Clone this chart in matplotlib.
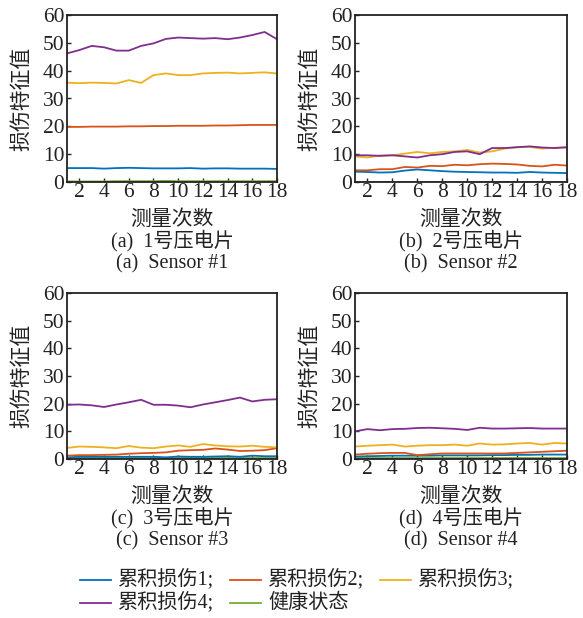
import matplotlib
matplotlib.use("Agg")
import matplotlib.pyplot as plt
from matplotlib.lines import Line2D

x = list(range(1, 19))

# Panel (a) Sensor #1
a_d1 = [5.0, 5.0, 5.0, 4.8, 5.0, 5.1, 5.0, 4.9, 4.9, 4.9, 5.0, 4.8, 4.9, 4.9, 4.8, 4.8, 4.8, 4.7]
a_d2 = [19.8, 19.8, 19.9, 19.9, 19.9, 20.0, 20.0, 20.1, 20.1, 20.2, 20.2, 20.2, 20.3, 20.3, 20.4, 20.5, 20.5, 20.5]
a_d3 = [35.7, 35.5, 35.7, 35.6, 35.4, 36.6, 35.6, 38.4, 39.0, 38.4, 38.4, 39.0, 39.2, 39.3, 39.0, 39.2, 39.4, 39.0]
a_d4 = [46.2, 47.4, 48.9, 48.4, 47.2, 47.2, 48.9, 49.8, 51.4, 51.9, 51.7, 51.5, 51.7, 51.3, 51.9, 52.8, 53.9, 51.3]
a_h = [0.2, 0.2, 0.2, 0.2, 0.3, 0.3, 0.3, 0.3, 0.4, 0.3, 0.3, 0.3, 0.3, 0.3, 0.3, 0.3, 0.3, 0.3]

# Panel (b) Sensor #2
b_d1 = [3.7, 3.6, 3.4, 3.5, 4.1, 4.5, 4.2, 3.9, 3.7, 3.6, 3.5, 3.4, 3.4, 3.3, 3.6, 3.4, 3.3, 3.2]
b_d2 = [4.2, 4.2, 4.6, 4.6, 5.4, 5.2, 5.8, 5.7, 6.2, 6.0, 6.4, 6.6, 6.5, 6.3, 5.8, 5.6, 6.2, 5.9]
b_d3 = [9.2, 8.8, 9.5, 9.6, 10.2, 10.8, 10.3, 10.8, 11.0, 11.5, 10.6, 11.0, 12.0, 12.5, 12.6, 12.0, 12.3, 12.4]
b_d4 = [9.6, 9.6, 9.4, 9.6, 9.2, 8.8, 9.6, 10.0, 10.8, 11.0, 10.0, 12.2, 12.2, 12.5, 12.8, 12.4, 12.2, 12.5]
b_h = [0.1, 0.1, 0.1, 0.1, 0.1, 0.1, 0.1, 0.1, 0.1, 0.1, 0.1, 0.1, 0.1, 0.1, 0.1, 0.1, 0.1, 0.1]

# Panel (c) Sensor #3
c_d1 = [0.6, 0.8, 0.8, 0.8, 0.8, 0.8, 0.8, 0.8, 0.6, 0.9, 0.8, 0.8, 0.9, 1.0, 0.8, 1.2, 1.0, 1.0]
c_d2 = [1.2, 1.4, 1.4, 1.5, 1.6, 1.9, 2.1, 2.2, 2.4, 3.0, 3.2, 3.3, 3.8, 3.4, 2.9, 3.0, 3.2, 3.9]
c_d3 = [4.0, 4.5, 4.4, 4.2, 3.9, 4.7, 4.1, 3.9, 4.5, 4.9, 4.4, 5.4, 4.9, 4.6, 4.5, 4.8, 4.4, 4.2]
c_d4 = [19.6, 19.7, 19.4, 18.8, 19.7, 20.5, 21.4, 19.6, 19.6, 19.3, 18.7, 19.7, 20.5, 21.3, 22.2, 20.8, 21.4, 21.6]
c_h = [0.2, 0.2, 0.2, 0.2, 0.2, 0.2, 0.2, 0.2, 0.2, 0.2, 0.2, 0.2, 0.2, 0.2, 0.2, 0.2, 0.2, 0.2]

# Panel (d) Sensor #4
d_d1 = [0.9, 1.0, 1.1, 1.2, 1.2, 1.2, 1.2, 1.3, 1.3, 1.3, 1.3, 1.4, 1.4, 1.5, 1.5, 1.6, 1.6, 1.6]
d_d2 = [1.6, 1.9, 2.1, 2.2, 2.2, 1.4, 1.7, 2.0, 2.0, 2.0, 2.0, 2.0, 2.0, 2.2, 2.4, 2.6, 2.8, 3.0]
d_d3 = [4.5, 4.8, 5.0, 5.2, 4.5, 4.8, 5.0, 5.0, 5.2, 4.8, 5.6, 5.2, 5.3, 5.6, 5.8, 5.2, 5.8, 5.6]
d_d4 = [10.0, 10.8, 10.4, 10.8, 10.9, 11.2, 11.3, 11.1, 10.9, 10.5, 11.3, 11.0, 11.0, 11.1, 11.2, 11.0, 11.0, 11.0]
d_h = [0.2, 0.2, 0.2, 0.2, 0.2, 0.2, 0.2, 0.2, 0.2, 0.2, 0.2, 0.2, 0.2, 0.2, 0.2, 0.2, 0.2, 0.2]

series_names = ["累积损伤1;", "累积损伤2;", "累积损伤3;", "累积损伤4;", "健康状态"]
x_ticks = [2, 4, 6, 8, 10, 12, 14, 16, 18]
y_ticks = [0, 10, 20, 30, 40, 50, 60]
captions_cn = ["(a)  1号压电片", "(b)  2号压电片", "(c)  3号压电片", "(d)  4号压电片"]
captions_en = ["(a)  Sensor #1", "(b)  Sensor #2", "(c)  Sensor #3", "(d)  Sensor #4"]
xlabel = "测量次数"
ylabel = "损伤特征值"

colors = ["#0072BD", "#D95319", "#EDB120", "#7E2F8E", "#77AC30"]
FAM = ["Liberation Serif", "Noto Sans CJK SC"]
TXT = "#222222"

W, H = 583, 618
fig = plt.figure(figsize=(W / 100, H / 100), dpi=100)

panels = [
    (a_d1, a_d2, a_d3, a_d4, a_h),
    (b_d1, b_d2, b_d3, b_d4, b_h),
    (c_d1, c_d2, c_d3, c_d4, c_h),
    (d_d1, d_d2, d_d3, d_d4, d_h),
]
# pixel boxes: left, right, top, bottom
boxes = [(67, 277, 15, 182), (355, 567, 15, 182), (67, 277, 293, 459), (355, 567, 293, 459)]

for i, (data, box) in enumerate(zip(panels, boxes)):
    l, r, t, b = box
    ax = fig.add_axes([l / W, 1 - b / H, (r - l) / W, (b - t) / H])
    for k in [4, 0, 1, 2, 3]:
        ax.plot(x, data[k], color=colors[k], lw=1.3)
    ax.set_xlim(1, 18)
    ax.set_ylim(0, 60)
    ax.set_xticks(x_ticks)
    ax.set_yticks(y_ticks)
    ax.tick_params(direction="in", length=3, width=1, pad=2, labelsize=15.5, colors=TXT)
    ax.tick_params(axis="x", pad=0.5)
    for lab in ax.get_xticklabels() + ax.get_yticklabels():
        lab.set_family("Liberation Serif")
    for s in ax.spines.values():
        s.set_linewidth(1.3)
        s.set_color(TXT)
    cx = (l + r) / 2 / W
    fig.text(cx, 1 - (b + 37) / H, xlabel, ha="center", va="center", fontsize=15,
             family=["Noto Sans CJK SC"], color=TXT)
    fig.text(cx, 1 - (b + 59) / H, captions_cn[i], ha="center", va="center", fontsize=14.5,
             family=FAM, color=TXT)
    fig.text(cx, 1 - (b + 82) / H, captions_en[i], ha="center", va="center", fontsize=14.5,
             family=FAM, color=TXT)
    fig.text((l - 46) / W, 1 - ((t + b) / 2) / H, ylabel, ha="center", va="center", rotation=90,
             fontsize=15, family=["Noto Sans CJK SC"], color=TXT)

# manual legend (positions in pixels)
leg_pos = [(80, 580), (230, 580), (380, 580), (80, 603), (230, 603)]
for k, (lx, ly) in enumerate(leg_pos):
    fig.add_artist(Line2D([lx / W, (lx + 31) / W], [1 - ly / H, 1 - ly / H],
                          color=colors[k], lw=1.3, transform=fig.transFigure))
    fig.text((lx + 38) / W, 1 - ly / H, series_names[k], ha="left", va="center",
             fontsize=14.5, family=FAM, color=TXT)

fig.savefig("out.png", dpi=100)
